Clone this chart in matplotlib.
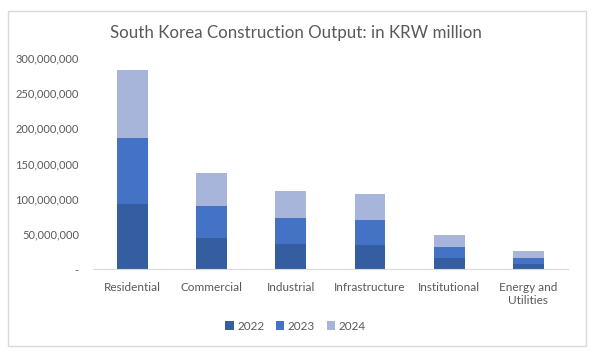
import matplotlib.pyplot as plt
import numpy as np
from matplotlib.patches import Rectangle
from matplotlib.ticker import FuncFormatter

categories = ["Residential", "Commercial", "Industrial", "Infrastructure",
              "Institutional", "Energy and\nUtilities"]
years = ["2022", "2023", "2024"]
v2022 = [92e6, 44.5e6, 36e6, 34.5e6, 16e6, 7.5e6]
v2023 = [94e6, 45e6, 37e6, 35.5e6, 15.5e6, 8.5e6]
v2024 = [97e6, 47e6, 38e6, 37e6, 17e6, 10e6]
colors = ["#355EA1", "#4472C4", "#A7B5DA"]

plt.rcParams['font.family'] = ['Lato', 'DejaVu Sans']

fig = plt.figure(figsize=(5.91, 3.58), dpi=100)
ax = fig.add_axes([0.157, 0.248, 0.804, 0.591])

# borde del grafico
fig.patches.append(Rectangle((7.5 / 591, 1 - 346 / 358), (586 - 7.5) / 591, (346 - 11) / 358,
                             transform=fig.transFigure, fill=False,
                             edgecolor="#D9D9D9", linewidth=1))

x = np.arange(len(categories))
bottom = np.zeros(len(categories))
for serie, nome, cor in zip([v2022, v2023, v2024], years, colors):
    ax.bar(x, serie, width=0.39, bottom=bottom, color=cor, label=nome)
    bottom = bottom + np.array(serie)

ax.set_xlim(-0.5, len(categories) - 0.5)
ax.set_ylim(0, 300e6)
ax.set_yticks(np.arange(0, 300e6 + 1, 50e6))
ax.yaxis.set_major_formatter(FuncFormatter(lambda v, p: "-" if v == 0 else f"{int(v):,}"))
ax.set_xticks(x)
ax.set_xticklabels(categories)
ax.tick_params(axis='both', length=0, labelsize=8.5, colors="#595959")
ax.tick_params(axis='y', labelsize=8)
ax.tick_params(axis='x', pad=9)
ax.tick_params(axis='y', pad=10)
for s in ["top", "right", "left"]:
    ax.spines[s].set_visible(False)
ax.spines["bottom"].set_color("#D9D9D9")

fig.text(0.5, 1 - 33 / 358, "South Korea Construction Output: in KRW million",
         ha="center", va="center", fontsize=12.2, color="#595959")

fig.legend(loc="center", bbox_to_anchor=(0.5, 1 - 326 / 358), ncol=3, frameon=False,
           fontsize=8.5, handlelength=0.7, handleheight=0.7, handletextpad=0.3,
           columnspacing=1.0, labelcolor="#595959")

fig.savefig("out.png", dpi=100)
